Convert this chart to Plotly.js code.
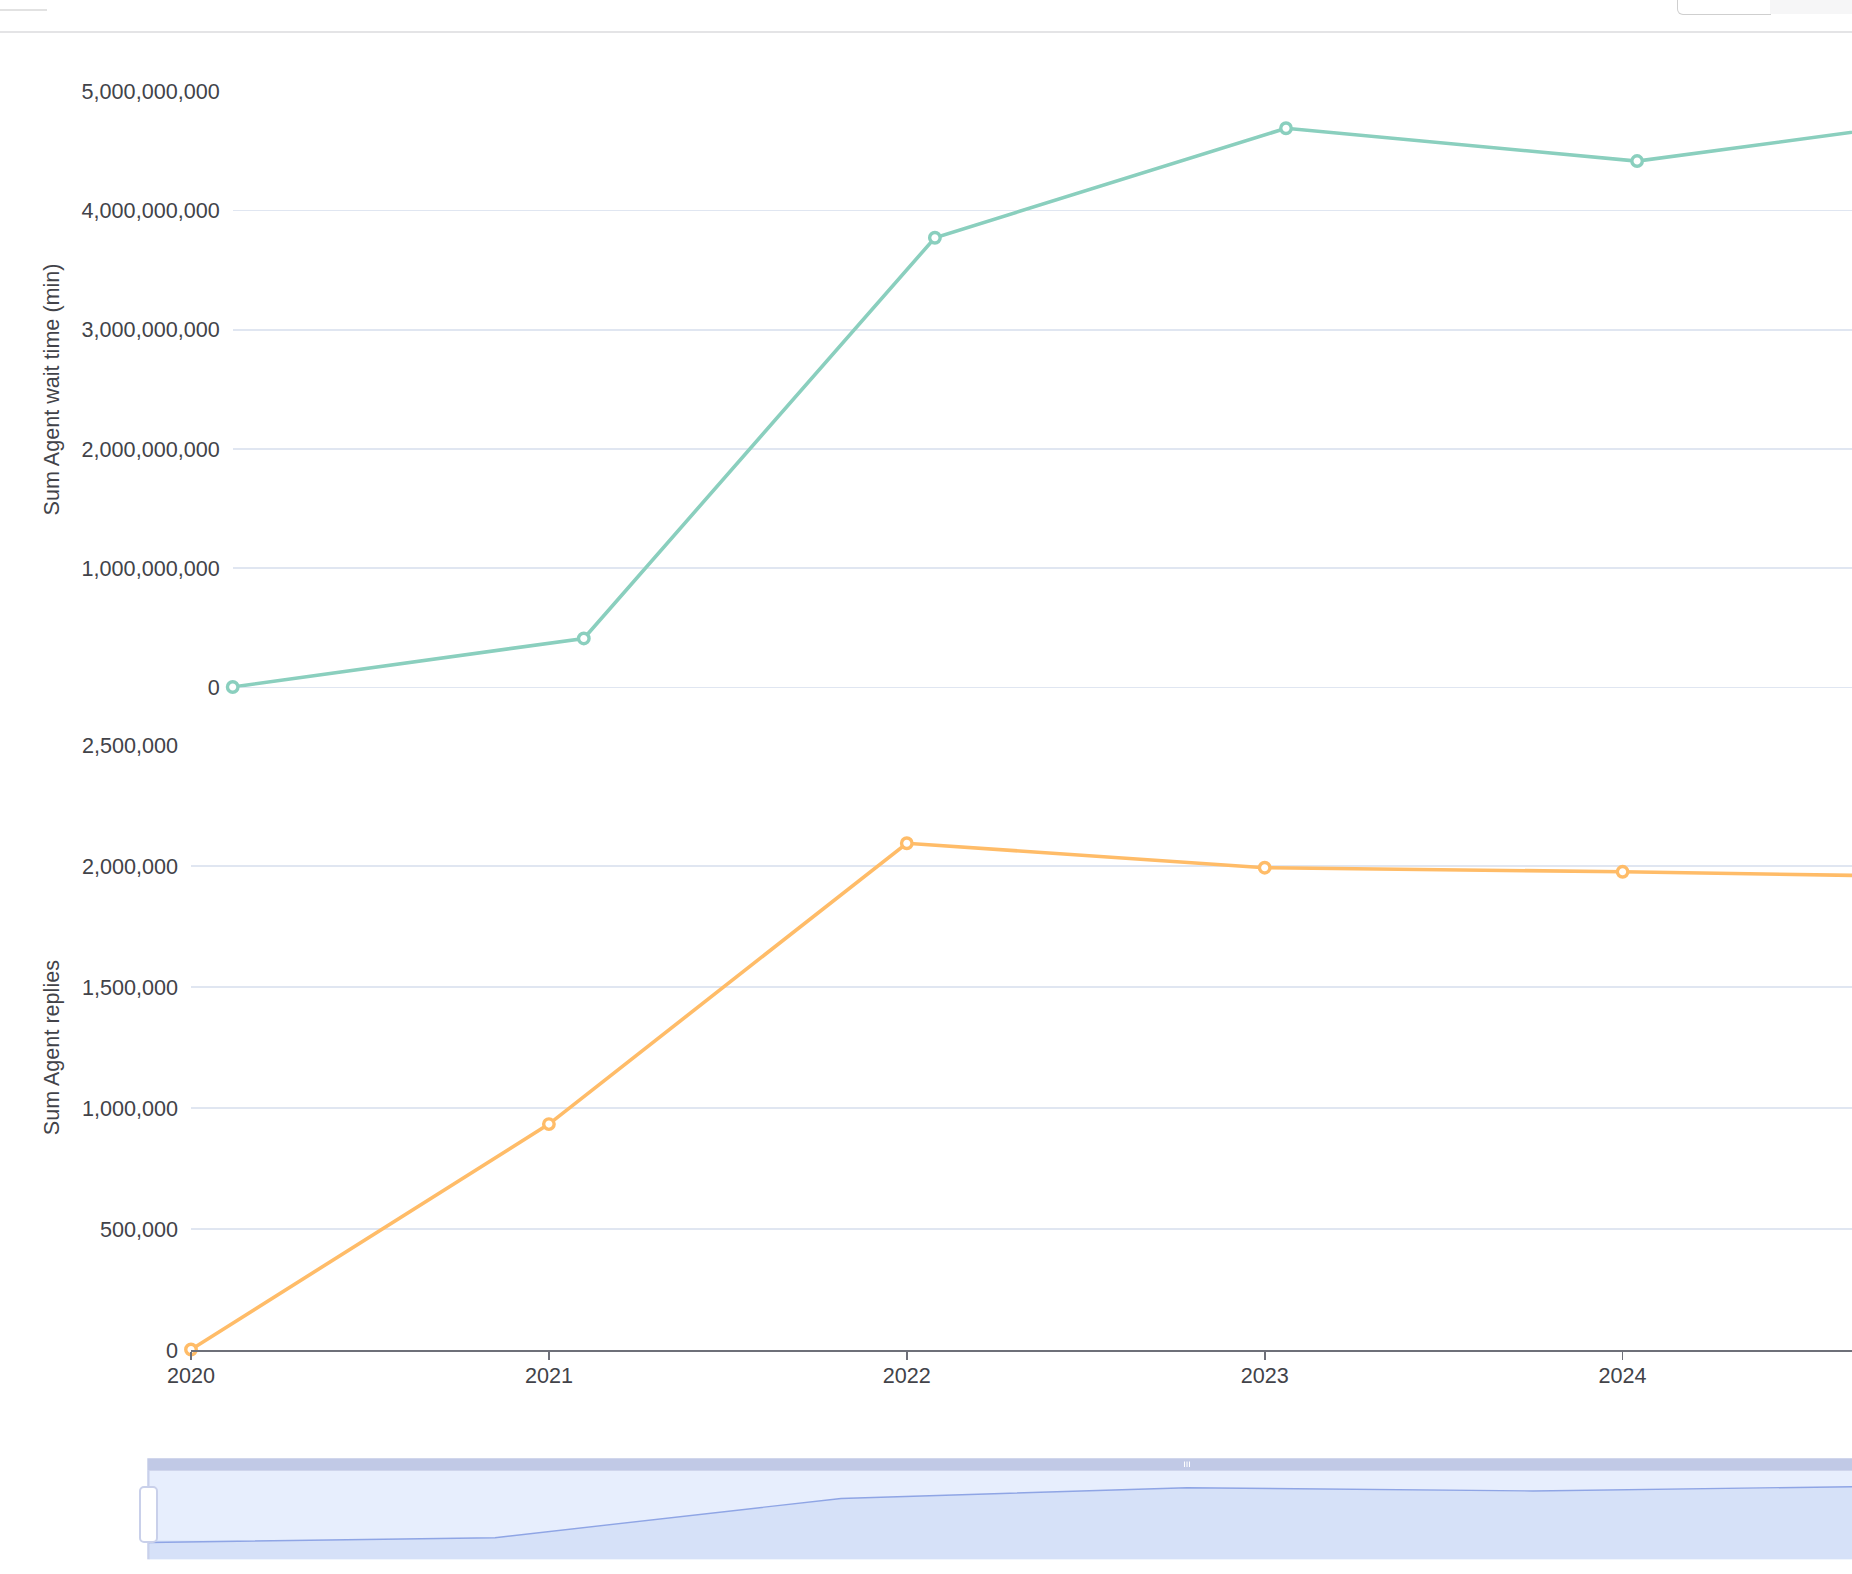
<!DOCTYPE html>
<html>
<head>
<meta charset="utf-8">
<script src="https://cdn.plot.ly/plotly-3.0.1.min.js"></script>
<style>
  html, body { margin: 0; padding: 0; background: #fff; overflow: hidden; }
  #chart { position: absolute; left: 0; top: 0; width: 1852px; height: 1574px; z-index: 1; }
  .chrome { position: absolute; box-sizing: border-box; }
  #tab-line { left: 0; top: 9px; width: 47px; height: 2px; background: #e2e2e2; }
  #rule { left: 0; top: 31px; width: 1852px; height: 2px; background: #e4e4e6; }
  #btn { left: 1677px; top: 0; width: 94px; height: 15px; background: #fff;
         border: 1.5px solid #cfcfcf; border-top: none; border-bottom-left-radius: 6px; }
  #btn-rest { left: 1770px; top: 0; width: 82px; height: 14px; background: #f6f6f7; }
  #handle { left: 139px; top: 1486px; width: 19px; height: 57px; background: #fff;
            border: 2px solid #c9d0ea; border-radius: 5px; z-index: 2; }
</style>
</head>
<body>
<div class="chrome" id="tab-line"></div>
<div class="chrome" id="rule"></div>
<div class="chrome" id="btn"></div>
<div class="chrome" id="btn-rest"></div>
<div id="chart"></div>
<div class="chrome" id="handle"></div>
<script>
// values (the 2025 point sits past the right edge)
const years = [2020, 2021, 2022, 2023, 2024, 2025];
const waitTime = [5000000, 412000000, 3772000000, 4690000000, 4415000000, 4809000000];
const replies = [2000, 934000, 2095000, 1994000, 1977000, 1954000];

const waitTitle = 'Sum Agent wait time (min)';
const repliesTitle = 'Sum Agent replies';

const W = 1852, H = 1574;
const teal = '#8acfbe';
const orange = '#ffbc68';
const gridColor = '#e0e6f1';
const axisColor = '#6e7079';
const textColor = '#424349';
const font = { family: '"Liberation Sans", Arial, sans-serif', size: 21.6, color: textColor };

// pixel helpers -> paper fractions
const px = (x) => x / W;
const py = (y) => (H - y) / H;

function lineTrace(y, color, xa, ya) {
    return {
        type: 'scatter', mode: 'lines+markers', x: years, y,
        xaxis: xa, yaxis: ya, cliponaxis: false,
        line: { color, width: 3.6 },
        marker: { symbol: 'circle', size: 10.5, color: '#fff', line: { color, width: 3.4 } },
        hoverinfo: 'skip',
    };
}

const traces = [
    lineTrace(waitTime, teal, 'x2', 'y2'),
    lineTrace(replies, orange, 'x', 'y'),
    // data zoom shadow
    {
        type: 'scatter', mode: 'lines', x: years, y: waitTime,
        xaxis: 'x3', yaxis: 'y3',
        line: { color: '#8fa5e5', width: 1.4 },
        fill: 'tozeroy', fillcolor: '#d6e1f8',
        hoverinfo: 'skip',
    },
];

const yBase = {
    gridcolor: gridColor, gridwidth: 1.8,
    showline: false, ticks: '', tickformat: ',d',
    ticklabelstandoff: 12, fixedrange: true,
};

const layout = {
    width: W, height: H,
    margin: { l: 0, r: 0, t: 0, b: 0 },
    paper_bgcolor: 'rgba(0,0,0,0)',
    plot_bgcolor: 'rgba(0,0,0,0)',
    font,
    showlegend: false,
    xaxis: {
        anchor: 'y', domain: [px(191), 1],
        range: [2020, 2020 + (W - 191) / 357.9],
        tick0: 2020, dtick: 1, tickformat: 'd',
        showgrid: false, zeroline: false,
        showline: true, linecolor: axisColor, linewidth: 2,
        ticks: 'outside', ticklen: 8, tickwidth: 1.8, tickcolor: axisColor,
        ticklabelstandoff: -3,
        fixedrange: true,
    },
    yaxis: Object.assign({}, yBase, {
        anchor: 'x', domain: [py(1350), py(745.3)],
        range: [0, 2500000], dtick: 500000, zeroline: false,
        title: { text: repliesTitle, standoff: 16, font },
    }),
    xaxis2: {
        anchor: 'y2', domain: [px(232.7), 1],
        range: [2020, 2020 + (W - 232.7) / 351.1],
        visible: false, fixedrange: true,
    },
    yaxis2: Object.assign({}, yBase, {
        anchor: 'x2', domain: [py(687.6), py(91.3)],
        range: [0, 5000000000], dtick: 1000000000,
        zeroline: true, zerolinecolor: gridColor, zerolinewidth: 1.8,
        title: { text: waitTitle, standoff: 16, font },
    }),
    xaxis3: {
        anchor: 'y3', domain: [px(149), 1],
        range: [2020, 2020 + (W - 149) / 346],
        visible: false, fixedrange: true,
    },
    yaxis3: {
        anchor: 'x3', domain: [py(1559.3), py(1470.7)],
        range: [-1440000000, 6150000000],
        visible: false, fixedrange: true,
    },
    shapes: [
        // slider body, lower strip, left edge, top bar and grip
        { type: 'rect', xref: 'paper', yref: 'paper', layer: 'below',
          x0: px(147.3), x1: 1, y0: py(1559.3), y1: py(1470.7),
          fillcolor: '#e7eefd', line: { width: 0 } },
        { type: 'rect', xref: 'paper', yref: 'paper', layer: 'below',
          x0: px(149), x1: 1, y0: py(1559.3), y1: py(1540.5),
          fillcolor: '#d6e1f8', line: { width: 0 } },
        { type: 'rect', xref: 'paper', yref: 'paper', layer: 'below',
          x0: px(147.3), x1: px(149.5), y0: py(1559.3), y1: py(1470.7),
          fillcolor: '#c9d0ea', line: { width: 0 } },
        { type: 'rect', xref: 'paper', yref: 'paper', layer: 'below',
          x0: px(147.3), x1: 1, y0: py(1470.7), y1: py(1458.3),
          fillcolor: '#c1c9e6', line: { width: 0 } },
        ...[1184.5, 1187, 1189.5].map((x) => ({
            type: 'line', xref: 'paper', yref: 'paper',
            x0: px(x), x1: px(x), y0: py(1467), y1: py(1461.5),
            line: { color: '#ffffff', width: 1 },
        })),
    ],
};

Plotly.newPlot('chart', traces, layout, { displayModeBar: false, staticPlot: true });
</script>
</body>
</html>
